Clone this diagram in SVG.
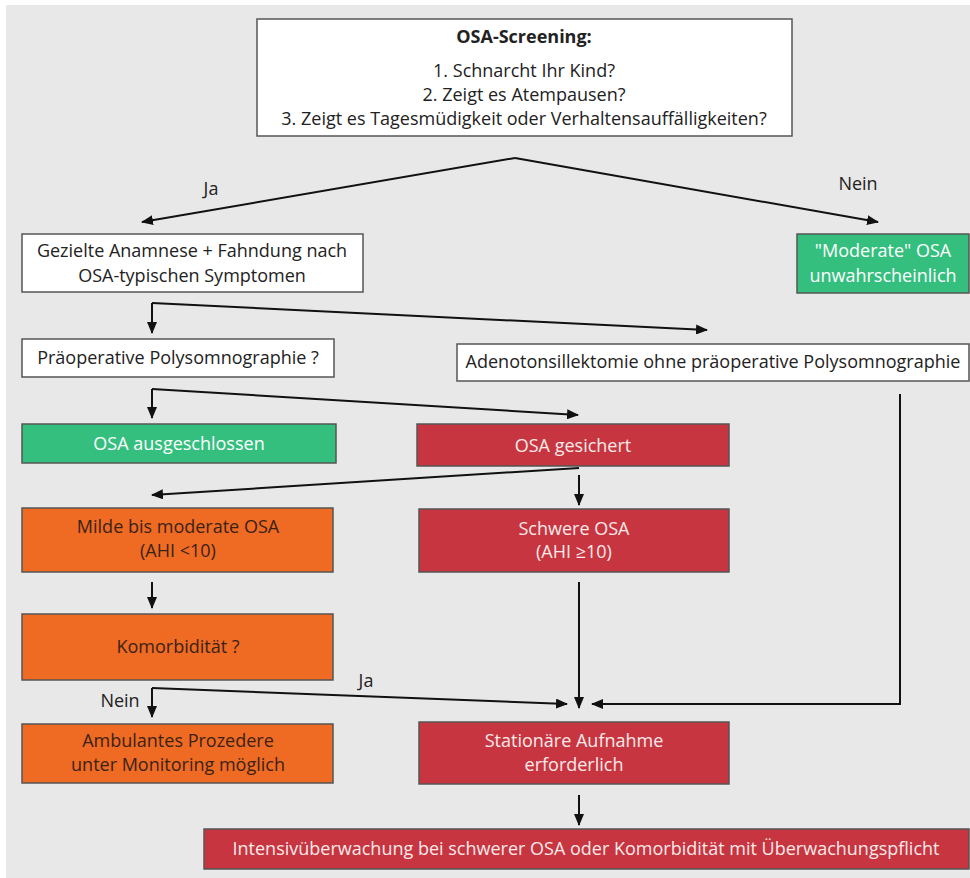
<svg xmlns="http://www.w3.org/2000/svg" width="970" height="878" viewBox="0 0 970 878">
<style>
.bx{stroke:#555;stroke-width:1.5}
.w{fill:#fff}
.g{fill:#34bf7e}
.r{fill:#c73540}
.o{fill:#ef6a22}
text{font-family:"Open Sans","Liberation Sans",sans-serif;font-size:18px;text-anchor:middle}
.tk{fill:#222}
.tw{fill:#fff}
.tr{fill:#fbeaea}
.to{fill:#3a2316}
.e{fill:none;stroke:#111;stroke-width:2}
</style>
<defs>
<marker id="ah" markerUnits="userSpaceOnUse" markerWidth="12" markerHeight="10" refX="11" refY="5" orient="auto">
<path d="M0,0 L12,5 L0,10 Z" fill="#111"/>
</marker>
</defs>
<rect x="6" y="5" width="964" height="873" fill="#e8e8e8"/>
<g id="connectors">
<path class="e" d="M515,158 L142,222" marker-end="url(#ah)"/>
<path class="e" d="M515,158 L878,222" marker-end="url(#ah)"/>
<path class="e" d="M152,303 L152,333" marker-end="url(#ah)"/>
<path class="e" d="M152,303 L707,330" marker-end="url(#ah)"/>
<path class="e" d="M152,389 L152,418" marker-end="url(#ah)"/>
<path class="e" d="M152,389 L578,415" marker-end="url(#ah)"/>
<path class="e" d="M579,468 L152,495" marker-end="url(#ah)"/>
<path class="e" d="M579,475 L579,505" marker-end="url(#ah)"/>
<path class="e" d="M152,582 L152,608" marker-end="url(#ah)"/>
<path class="e" d="M152,688 L152,717" marker-end="url(#ah)"/>
<path class="e" d="M152,688 L567,704" marker-end="url(#ah)"/>
<path class="e" d="M579,582 L579,708" marker-end="url(#ah)"/>
<path class="e" d="M900,394 L900,704 L592,704" marker-end="url(#ah)"/>
<path class="e" d="M579,795 L579,825" marker-end="url(#ah)"/>
<text class="tk" x="211" y="195">Ja</text>
<text class="tk" x="858" y="190">Nein</text>
<text class="tk" x="120" y="707">Nein</text>
<text class="tk" x="366" y="687">Ja</text>
</g>
<g id="screening">
<rect class="bx w" x="257" y="19" width="535" height="117"/>
<text class="tk" x="524" y="43" font-weight="bold">OSA-Screening:</text>
<text class="tk" x="524" y="77">1. Schnarcht Ihr Kind?</text>
<text class="tk" x="524" y="101">2. Zeigt es Atempausen?</text>
<text class="tk" x="524" y="125">3. Zeigt es Tagesmüdigkeit oder Verhaltensauffälligkeiten?</text>
</g>
<g id="gezielte">
<rect class="bx w" x="22" y="234" width="341" height="58"/>
<text class="tk" x="192" y="257">Gezielte Anamnese + Fahndung nach</text>
<text class="tk" x="192" y="282">OSA-typischen Symptomen</text>
</g>
<g id="moderate">
<rect class="bx g" x="797" y="234" width="172" height="59"/>
<text class="tw" x="883" y="257">"Moderate" OSA</text>
<text class="tw" x="883" y="282">unwahrscheinlich</text>
</g>
<g id="praeop">
<rect class="bx w" x="22" y="339" width="312" height="38"/>
<text class="tk" x="178" y="364">Präoperative Polysomnographie ?</text>
</g>
<g id="adeno">
<rect class="bx w" x="457" y="344" width="512" height="37"/>
<text class="tk" x="713" y="368">Adenotonsillektomie ohne präoperative Polysomnographie</text>
</g>
<g id="ausgeschlossen">
<rect class="bx g" x="22" y="424" width="314" height="39"/>
<text class="tw" x="179" y="450">OSA ausgeschlossen</text>
</g>
<g id="gesichert">
<rect class="bx r" x="417" y="424" width="312" height="42"/>
<text class="tr" x="573" y="452">OSA gesichert</text>
</g>
<g id="milde">
<rect class="bx o" x="22" y="508" width="311" height="64"/>
<text class="to" x="178" y="533">Milde bis moderate OSA</text>
<text class="to" x="178" y="557">(AHI &lt;10)</text>
</g>
<g id="schwere">
<rect class="bx r" x="419" y="509" width="310" height="63"/>
<text class="tr" x="574" y="535">Schwere OSA</text>
<text class="tr" x="574" y="558">(AHI ≥10)</text>
</g>
<g id="komorbiditaet">
<rect class="bx o" x="22" y="614" width="311" height="66"/>
<text class="to" x="178" y="653">Komorbidität ?</text>
</g>
<g id="ambulant">
<rect class="bx o" x="22" y="724" width="311" height="59"/>
<text class="to" x="178" y="747">Ambulantes Prozedere</text>
<text class="to" x="178" y="771">unter Monitoring möglich</text>
</g>
<g id="stationaer">
<rect class="bx r" x="419" y="722" width="310" height="62"/>
<text class="tr" x="574" y="747">Stationäre Aufnahme</text>
<text class="tr" x="574" y="771">erforderlich</text>
</g>
<g id="intensiv">
<rect class="bx r" x="204" y="829" width="765" height="40"/>
<text class="tr" x="586" y="855">Intensivüberwachung bei schwerer OSA oder Komorbidität mit Überwachungspflicht</text>
</g>
</svg>
